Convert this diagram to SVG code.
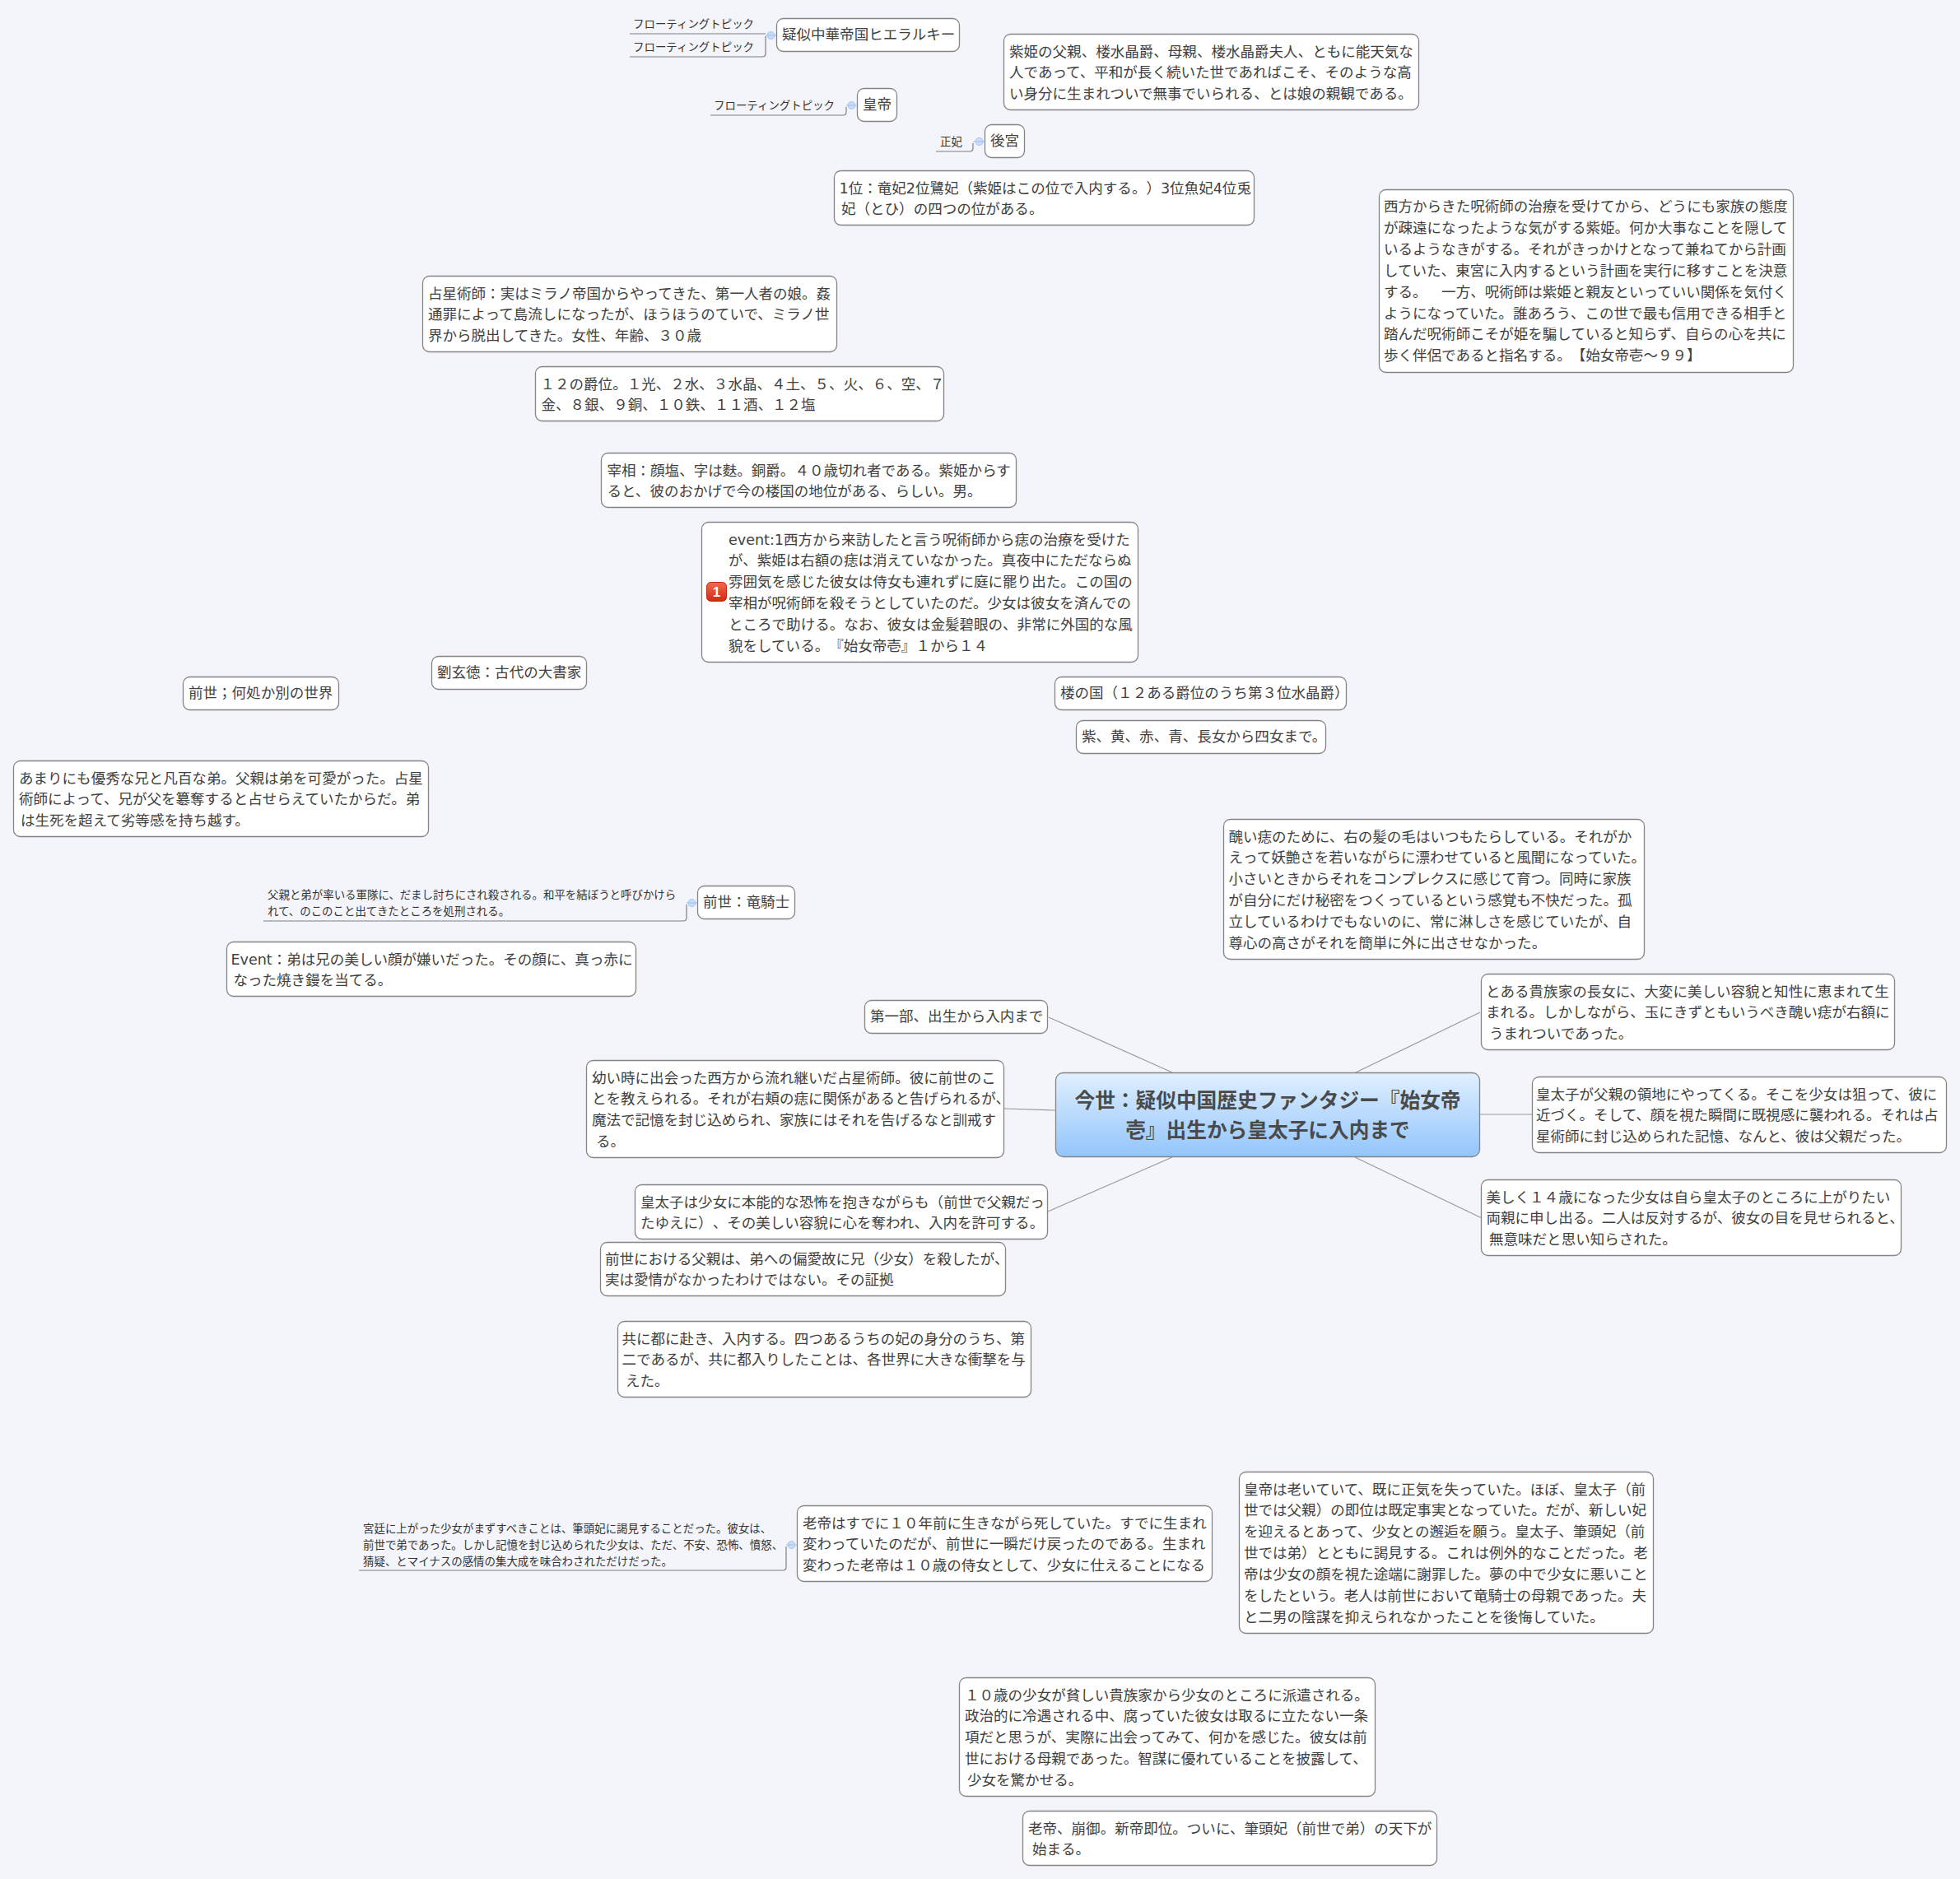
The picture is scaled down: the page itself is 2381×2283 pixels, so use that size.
<svg xmlns="http://www.w3.org/2000/svg" width="2381" height="2283" viewBox="0 0 2381 2283">
<style>
text{font-family:"DejaVu Sans","Noto Sans CJK JP",sans-serif;font-size:17.55px;fill:#404040;text-spacing-trim:space-all;transform:translateY(-1px)}
.n{fill:#fff;stroke:#858585;stroke-width:1.3}
.c{fill:none;stroke:#999;stroke-width:1.2}
.u{fill:none;stroke:#808080;stroke-width:1.2}
.t{fill:none;stroke:#a5c0ec;stroke-width:1}
.d{fill:#c9dcfb;stroke:#a5c0ec;stroke-width:1}
.s{font-size:13.45px;fill:#333;transform:none}
.h{font-size:24.7px;font-weight:bold;fill:#4a4a4a;text-anchor:middle;transform:translateY(0.5px)}
</style>
<defs>
<linearGradient id="g" x1="0" y1="0" x2="0" y2="1"><stop offset="0" stop-color="#e0efff"/><stop offset="1" stop-color="#92c5fc"/></linearGradient>
<linearGradient id="r" x1="0" y1="0" x2="0" y2="1"><stop offset="0" stop-color="#f26a4b"/><stop offset="1" stop-color="#cf2a14"/></linearGradient>
</defs>
<rect width="2381" height="2283" fill="#f3f5fb"/>
<g id="connectors">
<path class="c" d="M1274 1236L1424 1303M1220 1347L1283 1349M1273 1472L1424 1406M1798 1230L1647 1303M1798 1354H1861M1646 1406L1800 1480"/>
<path class="u" d="M765 41H930M765 69H926q4 0 4-4V44"/>
<path class="u" d="M863 140H1024q4 0 4-4V130"/>
<path class="u" d="M1137 184H1178q4 0 4-4V174"/>
<path class="u" d="M320 1119H830q4 0 4-4V1099"/>
<path class="u" d="M436 1908H951q4 0 4-4V1879"/>
<circle class="d" cx="936.500" cy="43" r="4.500"/>
<circle class="d" cx="1034.500" cy="128" r="4.500"/>
<circle class="d" cx="1189.500" cy="172" r="4.500"/>
<circle class="d" cx="840.500" cy="1097" r="4.500"/>
<circle class="d" cx="961.500" cy="1877" r="4.500"/>
<path class="t" d="M930 43H943M1028 128H1042M1182 172H1197M834 1097H848M955 1877H969"/>
</g>
<g id="central"><rect x="1282.500" y="1303.500" width="515" height="102" rx="9" fill="url(#g)" stroke="#858585" stroke-width="1.3"/>
<text class="h" x="1540" y="1345">今世：疑似中国歴史ファンタジー『始女帝</text><text class="h" x="1540" y="1381.500">壱』出生から皇太子に入内まで</text></g>
<g id="f1"><text class="s" x="769" y="34">フローティングトピック</text></g>
<g id="f2"><text class="s" x="769" y="62">フローティングトピック</text></g>
<g id="f3"><text class="s" x="867" y="133">フローティングトピック</text></g>
<g id="f4"><text class="s" x="1142" y="177">正妃</text></g>
<g id="f5"><text class="s" x="325" y="1092">父親と弟が率いる軍隊に、だまし討ちにされ殺される。和平を結ぼうと呼びかけら</text><text class="s" x="325" y="1112">れて、のこのこと出てきたところを処刑される。</text></g>
<g id="f6"><text class="s" x="441" y="1862">宮廷に上がった少女がまずすべきことは、筆頭妃に謁見することだった。彼女は、</text><text class="s" x="441" y="1882">前世で弟であった。しかし記憶を封じ込められた少女は、ただ、不安、恐怖、憤怒、</text><text class="s" x="441" y="1902">猜疑、とマイナスの感情の集大成を味合わされただけだった。</text></g>
<g id="n1"><rect class="n" x="943.500" y="22.500" width="222" height="40" rx="8"/><text x="950" y="49">疑似中華帝国ヒエラルキー</text></g>
<g id="n2"><rect class="n" x="1219.500" y="41.500" width="504" height="92" rx="8"/><text x="1226" y="69.500">紫姫の父親、楼水晶爵、母親、楼水晶爵夫人、ともに能天気な</text><text x="1226" y="95.400">人であって、平和が長く続いた世であればこそ、そのような高</text><text x="1226" y="121.300">い身分に生まれついで無事でいられる、とは娘の親観である。</text></g>
<g id="n3"><rect class="n" x="1041.500" y="107.500" width="48" height="40" rx="8"/><text x="1048" y="134">皇帝</text></g>
<g id="n4"><rect class="n" x="1196.500" y="151.500" width="48" height="40" rx="8"/><text x="1203" y="178">後宮</text></g>
<g id="n5"><rect class="n" x="1013.500" y="207.500" width="510" height="66" rx="8"/><text x="1019.500" y="235.500">1位：竜妃2位鷺妃（紫姫はこの位で入内する。）3位魚妃4位兎</text><text x="1022" y="261.400">妃（とひ）の四つの位がある。</text></g>
<g id="n6"><rect class="n" x="1675.500" y="230.500" width="503" height="222" rx="8"/><text x="1681" y="258">西方からきた呪術師の治療を受けてから、どうにも家族の態度</text><text x="1681" y="283.900">が疎遠になったような気がする紫姫。何か大事なことを隠して</text><text x="1681" y="309.800">いるようなきがする。それがきっかけとなって兼ねてから計画</text><text x="1681" y="335.700">していた、東宮に入内するという計画を実行に移すことを決意</text><text x="1681" y="361.600">する。　一方、呪術師は紫姫と親友といっていい関係を気付く</text><text x="1681" y="387.500">ようになっていた。誰あろう、この世で最も信用できる相手と</text><text x="1681" y="413.400">踏んだ呪術師こそが姫を騙していると知らず、自らの心を共に</text><text x="1681" y="439.300">歩く伴侶であると指名する。【始女帝壱～９９】</text></g>
<g id="n7"><rect class="n" x="513.500" y="335.500" width="503" height="92" rx="8"/><text x="520" y="363.500">占星術師：実はミラノ帝国からやってきた、第一人者の娘。姦</text><text x="520" y="389.400">通罪によって島流しになったが、ほうほうのていで、ミラノ世</text><text x="520" y="415.300">界から脱出してきた。女性、年齢、３０歳</text></g>
<g id="n8"><rect class="n" x="650.500" y="445.500" width="496" height="66" rx="8"/><text x="656.500" y="473.500">１２の爵位。１光、２水、３水晶、４土、５、火、６、空、７</text><text x="657.500" y="499.400">金、８銀、９銅、１０鉄、１１酒、１２塩</text></g>
<g id="n9"><rect class="n" x="730.500" y="550.500" width="504" height="66" rx="8"/><text x="737.500" y="578.500">宰相：顔塩、字は麩。銅爵。４０歳切れ者である。紫姫からす</text><text x="737.500" y="604.400">ると、彼のおかげで今の楼国の地位がある、らしい。男。</text></g>
<g id="n10"><rect class="n" x="852.500" y="634.500" width="530" height="170" rx="8"/>
<rect x="858.500" y="707.500" width="24" height="23" rx="5" fill="url(#r)" stroke="#b92a15" stroke-width="1"/><text x="870.500" y="726" style="font-family:'Liberation Sans',sans-serif;font-size:17px;font-weight:bold;fill:#fff;text-anchor:middle">1</text>
<text x="885" y="662.500">event:1西方から来訪したと言う呪術師から痣の治療を受けた</text><text x="885" y="688.400">が、紫姫は右額の痣は消えていなかった。真夜中にただならぬ</text><text x="885" y="714.300">雰囲気を感じた彼女は侍女も連れずに庭に罷り出た。この国の</text><text x="885" y="740.200">宰相が呪術師を殺そうとしていたのだ。少女は彼女を済んでの</text><text x="885" y="766.100">ところで助ける。なお、彼女は金髪碧眼の、非常に外国的な風</text><text x="885" y="792">貌をしている。『始女帝壱』１から１４</text></g>
<g id="n11"><rect class="n" x="524.500" y="797.500" width="188" height="40" rx="8"/><text x="531" y="824">劉玄徳：古代の大書家</text></g>
<g id="n12"><rect class="n" x="222.500" y="822.500" width="189" height="40" rx="8"/><text x="229" y="849">前世；何処か別の世界</text></g>
<g id="n13"><rect class="n" x="1281.500" y="822.500" width="354" height="40" rx="8"/><text x="1288" y="849">楼の国（１２ある爵位のうち第３位水晶爵）</text></g>
<g id="n14"><rect class="n" x="1307.500" y="875.500" width="303" height="40" rx="8"/><text x="1314" y="902">紫、黄、赤、青、長女から四女まで。</text></g>
<g id="n15"><rect class="n" x="16.500" y="924.500" width="504" height="92" rx="8"/><text x="23" y="952.500">あまりにも優秀な兄と凡百な弟。父親は弟を可愛がった。占星</text><text x="23" y="978.400">術師によって、兄が父を簒奪すると占せらえていたからだ。弟</text><text x="25" y="1004.300">は生死を超えて劣等感を持ち越す。</text></g>
<g id="n16"><rect class="n" x="847.500" y="1076.500" width="118" height="40" rx="8"/><text x="854" y="1103">前世：竜騎士</text></g>
<g id="n17"><rect class="n" x="275.500" y="1144.500" width="497" height="66" rx="8"/><text x="280.500" y="1172.500">Event：弟は兄の美しい顔が嫌いだった。その顔に、真っ赤に</text><text x="283.500" y="1198.400">なった焼き鏝を当てる。</text></g>
<g id="n18"><rect class="n" x="1486.500" y="995.500" width="511" height="170" rx="8"/><text x="1492.500" y="1023.500">醜い痣のために、右の髪の毛はいつもたらしている。それがか</text><text x="1492.500" y="1049.400">えって妖艶さを若いながらに漂わせていると風聞になっていた。</text><text x="1492.500" y="1075.300">小さいときからそれをコンプレクスに感じて育つ。同時に家族</text><text x="1492.500" y="1101.200">が自分にだけ秘密をつくっているという感覚も不快だった。孤</text><text x="1492.500" y="1127.100">立しているわけでもないのに、常に淋しさを感じていたが、自</text><text x="1492.500" y="1153">尊心の高さがそれを簡単に外に出させなかった。</text></g>
<g id="n19"><rect class="n" x="1799.500" y="1183.500" width="502" height="92" rx="8"/><text x="1805" y="1211.500">とある貴族家の長女に、大変に美しい容貌と知性に恵まれて生</text><text x="1805" y="1237.400">まれる。しかしながら、玉にきずともいうべき醜い痣が右額に</text><text x="1809" y="1263.300">うまれついであった。</text></g>
<g id="n20"><rect class="n" x="1050.500" y="1215.500" width="222" height="40" rx="8"/><text x="1057" y="1242">第一部、出生から入内まで</text></g>
<g id="n21"><rect class="n" x="712.500" y="1288.500" width="507" height="118" rx="8"/><text x="719" y="1316.500">幼い時に出会った西方から流れ継いだ占星術師。彼に前世のこ</text><text x="719" y="1342.400">とを教えられる。それが右頬の痣に関係があると告げられるが、</text><text x="719" y="1368.300">魔法で記憶を封じ込められ、家族にはそれを告げるなと訓戒す</text><text x="724" y="1394.200">る。</text></g>
<g id="n22"><rect class="n" x="1861.500" y="1308.500" width="503" height="92" rx="8"/><text x="1866" y="1336.500">皇太子が父親の領地にやってくる。そこを少女は狙って、彼に</text><text x="1866" y="1362.400">近づく。そして、顔を視た瞬間に既視感に襲われる。それは占</text><text x="1866" y="1388.300">星術師に封じ込められた記憶、なんと、彼は父親だった。</text></g>
<g id="n23"><rect class="n" x="1799.500" y="1433.500" width="510" height="92" rx="8"/><text x="1805.500" y="1461.500">美しく１４歳になった少女は自ら皇太子のところに上がりたい</text><text x="1805.500" y="1487.400">両親に申し出る。二人は反対するが、彼女の目を見せられると、</text><text x="1809" y="1513.300">無意味だと思い知らされた。</text></g>
<g id="n24"><rect class="n" x="771.500" y="1439.500" width="501" height="66" rx="8"/><text x="778" y="1467.500">皇太子は少女に本能的な恐怖を抱きながらも（前世で父親だっ</text><text x="778" y="1493.400">たゆえに）、その美しい容貌に心を奪われ、入内を許可する。</text></g>
<g id="n25"><rect class="n" x="729.500" y="1509.500" width="492" height="65" rx="8"/><text x="735" y="1536.500">前世における父親は、弟への偏愛故に兄（少女）を殺したが、</text><text x="735" y="1562.400">実は愛情がなかったわけではない。その証拠</text></g>
<g id="n26"><rect class="n" x="750.500" y="1605.500" width="502" height="92" rx="8"/><text x="755.500" y="1633.500">共に都に赴き、入内する。四つあるうちの妃の身分のうち、第</text><text x="755.500" y="1659.400">二であるが、共に都入りしたことは、各世界に大きな衝撃を与</text><text x="760" y="1685.300">えた。</text></g>
<g id="n27"><rect class="n" x="968.500" y="1829.500" width="504" height="92" rx="8"/><text x="975" y="1857.500">老帝はすでに１０年前に生きながら死していた。すでに生まれ</text><text x="975" y="1883.400">変わっていたのだが、前世に一瞬だけ戻ったのである。生まれ</text><text x="975" y="1909.300">変わった老帝は１０歳の侍女として、少女に仕えることになる</text></g>
<g id="n28"><rect class="n" x="1505.500" y="1788.500" width="503" height="196" rx="8"/><text x="1511" y="1816.500">皇帝は老いていて、既に正気を失っていた。ほぼ、皇太子（前</text><text x="1511" y="1842.400">世では父親）の即位は既定事実となっていた。だが、新しい妃</text><text x="1511" y="1868.300">を迎えるとあって、少女との邂逅を願う。皇太子、筆頭妃（前</text><text x="1511" y="1894.200">世では弟）とともに謁見する。これは例外的なことだった。老</text><text x="1511" y="1920.100">帝は少女の顔を視た途端に謝罪した。夢の中で少女に悪いこと</text><text x="1511" y="1946">をしたという。老人は前世において竜騎士の母親であった。夫</text><text x="1511" y="1971.900">と二男の陰謀を抑えられなかったことを後悔していた。</text></g>
<g id="n29"><rect class="n" x="1165.500" y="2038.500" width="505" height="144" rx="8"/><text x="1172" y="2066.500">１０歳の少女が貧しい貴族家から少女のところに派遣される。</text><text x="1172" y="2092.400">政治的に冷遇される中、腐っていた彼女は取るに立たない一条</text><text x="1172" y="2118.300">項だと思うが、実際に出会ってみて、何かを感じた。彼女は前</text><text x="1172" y="2144.200">世における母親であった。智謀に優れていることを披露して、</text><text x="1175" y="2170.100">少女を驚かせる。</text></g>
<g id="n30"><rect class="n" x="1242.500" y="2200.500" width="503" height="66" rx="8"/><text x="1249" y="2228.500">老帝、崩御。新帝即位。ついに、筆頭妃（前世で弟）の天下が</text><text x="1254" y="2254.400">始まる。</text></g>
</svg>
